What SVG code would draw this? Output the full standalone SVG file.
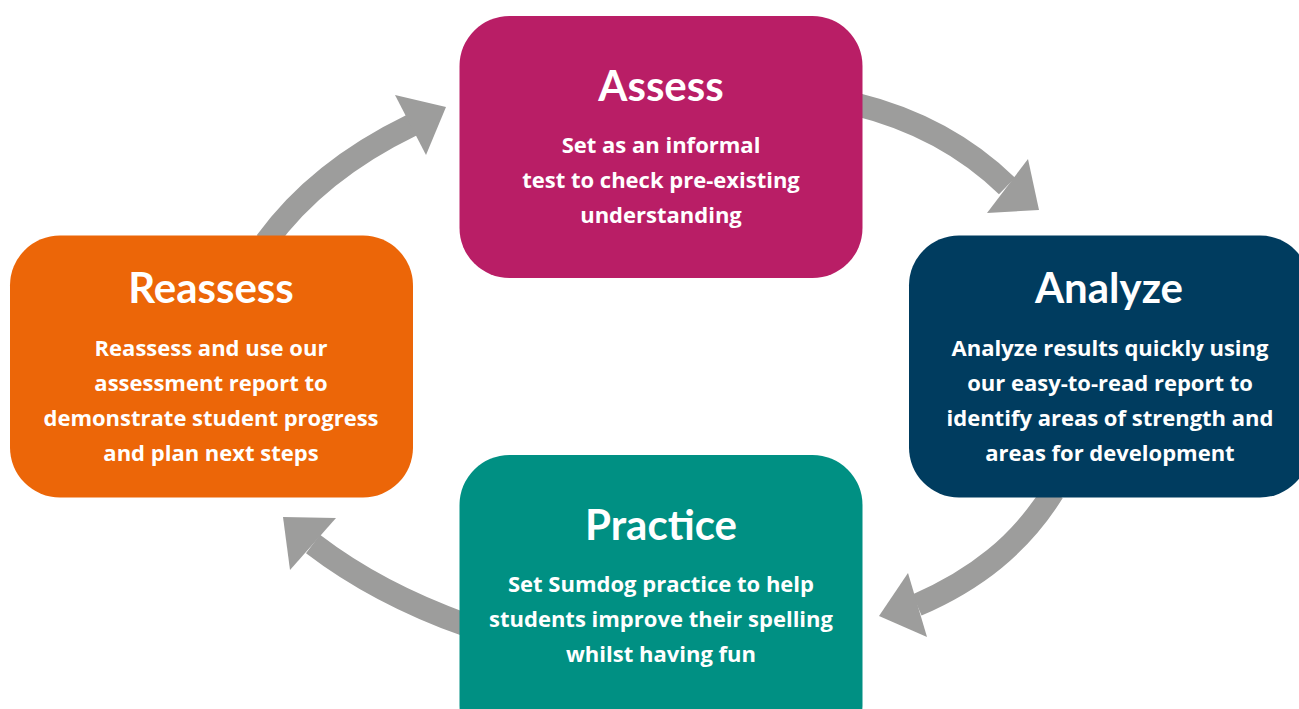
<svg xmlns="http://www.w3.org/2000/svg" width="1299" height="709" viewBox="0 0 1299 709">
<style>
.band{fill:none;stroke:#9d9d9c;stroke-width:23}
.head{fill:#9d9d9c}
.t{font-family:Lato,"Open Sans","Liberation Sans",sans-serif;font-weight:700;fill:#fff;text-anchor:middle}
.title{font-size:42px}
.body{font-family:"Open Sans",Lato,"Liberation Sans",sans-serif;font-weight:700;font-size:22px}
</style>
<rect width="1299" height="709" fill="#fff"/>
<g id="connectors">
<path class="band" d="M266,242 C300,195 350,155 412,125"/>
<polygon class="head" points="395,95 446,107 426,155"/>
<path class="band" d="M855,104 C920,120 970,150 1007,186"/>
<polygon class="head" points="1028,159 1039,210 987,213"/>
<path class="band" d="M1053,492 C1020,545 975,580 917,605"/>
<polygon class="head" points="908,573 879,616 927,637"/>
<path class="band" d="M466,625 C410,605 360,580 313,544"/>
<polygon class="head" points="283,517 336,518 290,570"/>
</g>
<g id="assess">
<rect x="459.5" y="16" width="403" height="262" rx="50" fill="#b91e66"/>
<text class="t title" x="661" y="101">Assess</text>
<text class="t body" x="661" y="153">Set as an informal</text>
<text class="t body" x="661" y="188">test to check pre-existing</text>
<text class="t body" x="661" y="223">understanding</text>
</g>
<g id="analyze">
<rect x="909" y="235.5" width="401" height="262" rx="50" fill="#003c5f"/>
<text class="t title" x="1109" y="303">Analyze</text>
<text class="t body" x="1110" y="356">Analyze results quickly using</text>
<text class="t body" x="1110" y="391">our easy-to-read report to</text>
<text class="t body" x="1110" y="426">identify areas of strength and</text>
<text class="t body" x="1110" y="461">areas for development</text>
</g>
<g id="practice">
<rect x="459.5" y="455" width="403" height="300" rx="50" fill="#009083"/>
<text class="t title" x="661" y="540">Practice</text>
<text class="t body" x="661" y="592">Set Sumdog practice to help</text>
<text class="t body" x="661" y="627">students improve their spelling</text>
<text class="t body" x="661" y="662">whilst having fun</text>
</g>
<g id="reassess">
<rect x="10" y="235.5" width="403" height="262" rx="50" fill="#ec6608"/>
<text class="t title" x="211" y="303">Reassess</text>
<text class="t body" x="211" y="356">Reassess and use our</text>
<text class="t body" x="211" y="391">assessment report to</text>
<text class="t body" x="211" y="426">demonstrate student progress</text>
<text class="t body" x="211" y="461">and plan next steps</text>
</g>
</svg>
